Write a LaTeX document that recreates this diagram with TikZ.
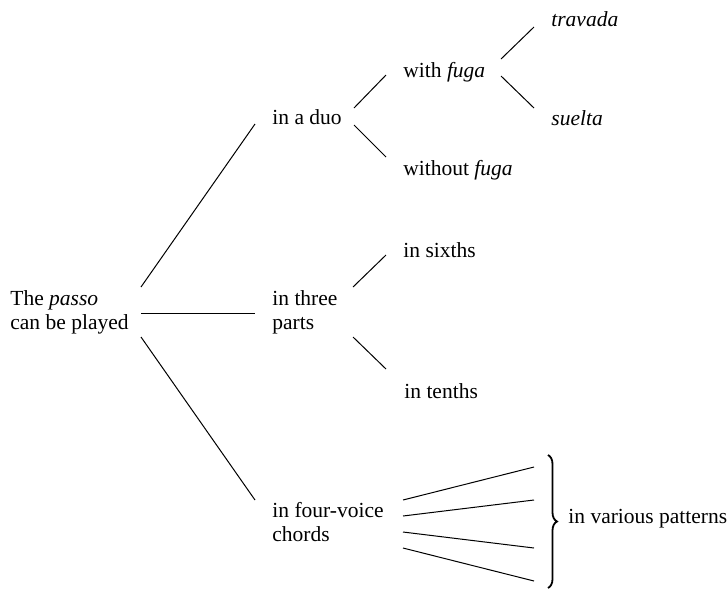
\documentclass[tikz,border=0pt]{standalone}
\usepackage{fontspec}
\setmainfont{Liberation Serif}
\usetikzlibrary{decorations.pathreplacing}
\begin{document}
\begin{tikzpicture}[x=0.5pt,y=-0.5pt,
  lbl/.style={anchor=base west, inner sep=0pt, font=\fontsize{10.75}{12}\selectfont},
  conn/.style={line width=0.5pt},
  bracestyle/.style={line width=0.9pt, decorate, decoration={brace, amplitude=4.5pt}}]
\useasboundingbox (0,0) rectangle (728,591);
% texts
\node[lbl] (root) at (10,305) {\begin{tabular}[t]{@{}l@{}}The \textit{passo}\\can be played\end{tabular}};
\node[lbl] (duo) at (272,124) {in a duo};
\node[lbl] (three) at (272,305) {\begin{tabular}[t]{@{}l@{}}in three\\parts\end{tabular}};
\node[lbl] (four) at (272,517) {\begin{tabular}[t]{@{}l@{}}in four-voice\\chords\end{tabular}};
\node[lbl] (with) at (403,77) {with \textit{fuga}};
\node[lbl] (without) at (403,175) {without \textit{fuga}};
\node[lbl] (travada) at (551,26) {\textit{travada}};
\node[lbl] (suelta) at (551,125) {\textit{suelta}};
\node[lbl] (sixths) at (403,257) {in sixths};
\node[lbl] (tenths) at (404,398) {in tenths};
\node[lbl] (various) at (568,523) {in various patterns};
% connector end points
\coordinate (rU) at (141,287); \coordinate (dL) at (255,124);
\coordinate (rM) at (141,313); \coordinate (tL) at (255,313);
\coordinate (rD) at (141,337); \coordinate (fL) at (255,500);
\coordinate (dU) at (354,108); \coordinate (wL) at (386,75);
\coordinate (dD) at (354,125); \coordinate (woL) at (386,157);
\coordinate (wU) at (501,59); \coordinate (trL) at (534,27);
\coordinate (wD) at (501,76); \coordinate (suL) at (534,108);
\coordinate (tU) at (353,287); \coordinate (siL) at (386,255);
\coordinate (tD) at (353,337); \coordinate (teL) at (386,369);
\coordinate (f1) at (403,500); \coordinate (g1) at (534,467);
\coordinate (f2) at (403,516); \coordinate (g2) at (534,500);
\coordinate (f3) at (403,532); \coordinate (g3) at (534,548);
\coordinate (f4) at (403,548); \coordinate (g4) at (534,581);
% connectors
\draw[conn] (rU) -- (dL);
\draw[conn] (rM) -- (tL);
\draw[conn] (rD) -- (fL);
\draw[conn] (dU) -- (wL);
\draw[conn] (dD) -- (woL);
\draw[conn] (wU) -- (trL);
\draw[conn] (wD) -- (suL);
\draw[conn] (tU) -- (siL);
\draw[conn] (tD) -- (teL);
\draw[conn] (f1) -- (g1);
\draw[conn] (f2) -- (g2);
\draw[conn] (f3) -- (g3);
\draw[conn] (f4) -- (g4);
% brace
\coordinate (bT) at (548,455); \coordinate (bB) at (548,588);
\draw[bracestyle] (bT) -- (bB);
\end{tikzpicture}
\end{document}
